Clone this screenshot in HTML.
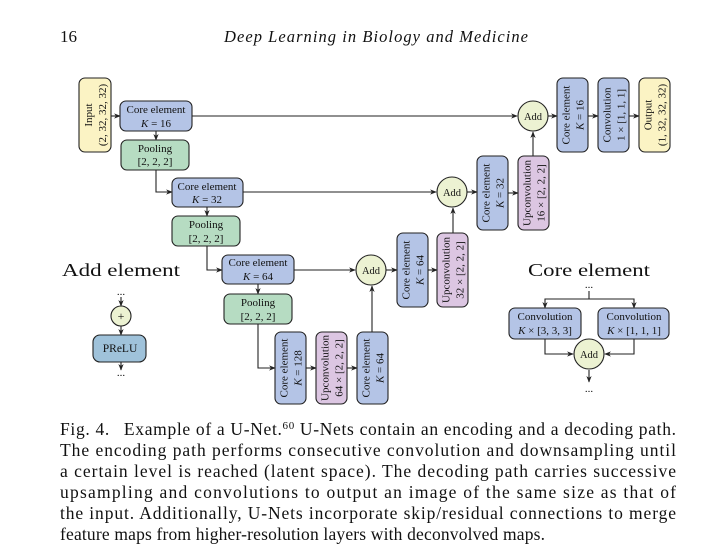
<!DOCTYPE html>
<html><head><meta charset="utf-8"><style>
html,body{margin:0;padding:0;background:#fff;width:724px;height:556px;overflow:hidden}
svg text{font-family:"Liberation Serif",serif;fill:#111}
</style></head><body>
<svg width="724" height="556" viewBox="0 0 724 556" xmlns="http://www.w3.org/2000/svg">
<defs>
<marker id="a" viewBox="0 0 10 10" refX="9" refY="5" markerWidth="6" markerHeight="6" orient="auto"><path d="M0,1 L10,5 L0,9 L3,5z" fill="#222"/></marker>
</defs>
<text x="60" y="42" font-size="17">16</text>
<text x="376" y="42" font-size="16.5" font-style="italic" text-anchor="middle" textLength="304" lengthAdjust="spacing">Deep Learning in Biology and Medicine</text>

<g stroke="#222" stroke-width="1.1" fill="none" marker-end="url(#a)">
<path d="M111,116 H120"/>
<path d="M192,116 H517"/>
<path d="M156,131 V140"/>
<path d="M156,170 V192 H172"/>
<path d="M243,192 H436"/>
<path d="M207,207 V216"/>
<path d="M207,246 V270 H222"/>
<path d="M294,270 H355"/>
<path d="M258,284 V294"/>
<path d="M258,324 V368 H275"/>
<path d="M306,368 H316"/>
<path d="M347,368 H357"/>
<path d="M372,332 V286"/>
<path d="M386,270 H397"/>
<path d="M428,270 H437"/>
<path d="M453,233 V208"/>
<path d="M467,192 H477"/>
<path d="M508,193 H518"/>
<path d="M533,156 V132"/>
<path d="M548,116 H557"/>
<path d="M588,116 H598"/>
<path d="M629,116 H639"/>
<path d="M121,297 V306"/>
<path d="M121,326 V335"/>
<path d="M121,362 V370"/>
<path d="M589,291 V299 H545 V308"/>
<path d="M589,299 H634 V308"/>
<path d="M545,339 V354 H573"/>
<path d="M634,339 V354 H605"/>
<path d="M589,370 V382"/>
</g>

<g stroke="#222" stroke-width="1.1">
<rect x="79" y="78" width="32" height="74" rx="6" fill="#fbf3c4"/>
<rect x="120" y="101" width="72" height="30" rx="6" fill="#b4c4e6"/>
<rect x="121" y="140" width="68" height="30" rx="6" fill="#b6dcc2"/>
<rect x="172" y="178" width="71" height="29" rx="6" fill="#b4c4e6"/>
<rect x="172" y="216" width="68" height="30" rx="6" fill="#b6dcc2"/>
<rect x="222" y="255" width="72" height="29" rx="6" fill="#b4c4e6"/>
<rect x="224" y="294" width="68" height="30" rx="6" fill="#b6dcc2"/>
<rect x="275" y="332" width="31" height="72" rx="6" fill="#b4c4e6"/>
<rect x="316" y="332" width="31" height="72" rx="6" fill="#dcc6e2"/>
<rect x="357" y="332" width="31" height="72" rx="6" fill="#b4c4e6"/>
<rect x="397" y="233" width="31" height="74" rx="6" fill="#b4c4e6"/>
<rect x="437" y="233" width="31" height="74" rx="6" fill="#dcc6e2"/>
<rect x="477" y="156" width="31" height="74" rx="6" fill="#b4c4e6"/>
<rect x="518" y="156" width="31" height="74" rx="6" fill="#dcc6e2"/>
<rect x="557" y="78" width="31" height="74" rx="6" fill="#b4c4e6"/>
<rect x="598" y="78" width="31" height="74" rx="6" fill="#b4c4e6"/>
<rect x="639" y="78" width="31" height="74" rx="6" fill="#fbf3c4"/>
<circle cx="371" cy="270" r="15" fill="#ecf2d2"/>
<circle cx="452" cy="192" r="15" fill="#ecf2d2"/>
<circle cx="533" cy="116" r="15" fill="#ecf2d2"/>
<circle cx="121" cy="316" r="10" fill="#ecf2d2"/>
<rect x="93" y="335" width="53" height="27" rx="7" fill="#9fc2da"/>
<rect x="509" y="308" width="72" height="31" rx="6" fill="#b4c4e6"/>
<rect x="598" y="308" width="71" height="31" rx="6" fill="#b4c4e6"/>
<circle cx="589" cy="354" r="15" fill="#ecf2d2"/>
</g>

<g font-size="11" text-anchor="middle">
<text x="156" y="113">Core element</text><text x="156" y="127"><tspan font-style="italic">K</tspan> = 16</text>
<text x="155" y="152">Pooling</text><text x="155" y="165">[2, 2, 2]</text>
<text x="207" y="190">Core element</text><text x="207" y="203"><tspan font-style="italic">K</tspan> = 32</text>
<text x="206" y="228">Pooling</text><text x="206" y="242">[2, 2, 2]</text>
<text x="258" y="266">Core element</text><text x="258" y="280"><tspan font-style="italic">K</tspan> = 64</text>
<text x="258" y="306">Pooling</text><text x="258" y="320">[2, 2, 2]</text>
<text x="371" y="274" font-size="10.5">Add</text>
<text x="452" y="196" font-size="10.5">Add</text>
<text x="533" y="120" font-size="10.5">Add</text>
<text x="589" y="358" font-size="10.5">Add</text>
<text x="121" y="320" font-size="12">+</text>
<text x="120" y="352" font-size="11.5">PReLU</text>
<text x="545" y="320">Convolution</text><text x="545" y="334"><tspan font-style="italic">K</tspan> × [3, 3, 3]</text>
<text x="634" y="320">Convolution</text><text x="634" y="334"><tspan font-style="italic">K</tspan> × [1, 1, 1]</text>
<text x="121" y="295" fill="#666">...</text>
<text x="121" y="376" fill="#666">...</text>
<text x="589" y="288" fill="#666">...</text>
<text x="589" y="392" fill="#666">...</text>
</g>

<g font-size="11" text-anchor="middle">
<g transform="translate(95,115) rotate(-90)"><text y="-3">Input</text><text y="11">(2, 32, 32, 32)</text></g>
<g transform="translate(290.5,368) rotate(-90)"><text y="-3">Core element</text><text y="11"><tspan font-style="italic">K</tspan> = 128</text></g>
<g transform="translate(331.5,368) rotate(-90)"><text y="-3">Upconvolution</text><text y="11">64 × [2, 2, 2]</text></g>
<g transform="translate(372.5,368) rotate(-90)"><text y="-3">Core element</text><text y="11"><tspan font-style="italic">K</tspan> = 64</text></g>
<g transform="translate(412.5,270) rotate(-90)"><text y="-3">Core element</text><text y="11"><tspan font-style="italic">K</tspan> = 64</text></g>
<g transform="translate(452.5,270) rotate(-90)"><text y="-3">Upconvolution</text><text y="11">32 × [2, 2, 2]</text></g>
<g transform="translate(492.5,193) rotate(-90)"><text y="-3">Core element</text><text y="11"><tspan font-style="italic">K</tspan> = 32</text></g>
<g transform="translate(533.5,193) rotate(-90)"><text y="-3">Upconvolution</text><text y="11">16 × [2, 2, 2]</text></g>
<g transform="translate(572.5,115) rotate(-90)"><text y="-3">Core element</text><text y="11"><tspan font-style="italic">K</tspan> = 16</text></g>
<g transform="translate(613.5,115) rotate(-90)"><text y="-3">Convolution</text><text y="11">1 × [1, 1, 1]</text></g>
<g transform="translate(654.5,115) rotate(-90)"><text y="-3">Output</text><text y="11">(1, 32, 32, 32)</text></g>
</g>

<text x="62" y="276" font-size="17.5" textLength="118" lengthAdjust="spacingAndGlyphs">Add element</text>
<text x="528" y="276" font-size="17.5" textLength="122" lengthAdjust="spacingAndGlyphs">Core element</text>

<g font-size="17.5">
<text x="60" y="435" textLength="616" lengthAdjust="spacing">Fig. 4.<tspan dx="14">Example of a U-Net.</tspan><tspan font-size="11" dy="-6">60</tspan><tspan dy="6"> U-Nets contain an encoding and a decoding path.</tspan></text>
<text x="60" y="456" textLength="616" lengthAdjust="spacing">The encoding path performs consecutive convolution and downsampling until</text>
<text x="60" y="477" textLength="616" lengthAdjust="spacing">a certain level is reached (latent space). The decoding path carries successive</text>
<text x="60" y="498" textLength="616" lengthAdjust="spacing">upsampling and convolutions to output an image of the same size as that of</text>
<text x="60" y="519" textLength="616" lengthAdjust="spacing">the input. Additionally, U-Nets incorporate skip/residual connections to merge</text>
<text x="60" y="540" textLength="485" lengthAdjust="spacing">feature maps from higher-resolution layers with deconvolved maps.</text>
</g>
</svg>
</body></html>
